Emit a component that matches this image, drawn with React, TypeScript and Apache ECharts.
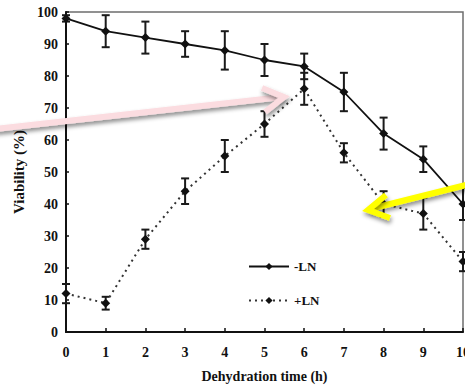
import React, { useEffect, useRef } from "react";
import * as echarts from "echarts";

const hours = [0, 1, 2, 3, 4, 5, 6, 7, 8, 9, 10];
const minusLN = [98, 94, 92, 90, 88, 85, 83, 75, 62, 54, 40];
const minusLNErr = [1, 5, 5, 4, 6, 5, 4, 6, 5, 4, 5];
const plusLN = [12, 9, 29, 44, 55, 65, 76, 56, 40, 37, 22];
const plusLNErr = [3, 2, 3, 4, 5, 4, 5, 3, 4, 5, 3];
const yTicks = [0, 10, 20, 30, 40, 50, 60, 70, 80, 90, 100];

const FONT = "'Liberation Serif', 'DejaVu Serif', serif";

function errorSeries(vals: number[], errs: number[]) {
  return {
    type: "custom",
    silent: true,
    z: 3,
    data: hours.map((h, i) => [h, vals[i] - errs[i], vals[i] + errs[i]]),
    renderItem: (params: any, api: any) => {
      const x = api.value(0);
      const lo = api.coord([x, api.value(1)]);
      const hi = api.coord([x, api.value(2)]);
      const cw = 4;
      const style = { stroke: "#1a1a1a", lineWidth: 2 };
      return {
        type: "group",
        children: [
          { type: "line", shape: { x1: lo[0], y1: lo[1], x2: hi[0], y2: hi[1] }, style },
          { type: "line", shape: { x1: hi[0] - cw, y1: hi[1], x2: hi[0] + cw, y2: hi[1] }, style },
          { type: "line", shape: { x1: lo[0] - cw, y1: lo[1], x2: lo[0] + cw, y2: lo[1] }, style },
        ],
      };
    },
  };
}

export default function App() {
  const ref = useRef<HTMLDivElement>(null);
  useEffect(() => {
    if (!ref.current) return;
    const chart = echarts.init(ref.current, null, { renderer: "svg" });
    const shadow = { shadowBlur: 4, shadowColor: "rgba(0,0,0,0.45)", shadowOffsetX: 1, shadowOffsetY: 3 };
    chart.setOption({
      animation: false,
      backgroundColor: "#ffffff",
      grid: {
        left: 66,
        right: 2,
        top: 12,
        bottom: 55,
        show: true,
        borderColor: "#6e6e6e",
        borderWidth: 1.5,
        backgroundColor: "transparent",
        containLabel: false,
        outerBoundsMode: "none",
      },
      legend: {
        orient: "vertical",
        left: 243,
        top: 255,
        itemWidth: 40,
        itemHeight: 9,
        itemGap: 21,
        textStyle: { fontFamily: FONT, fontSize: 13, fontWeight: "bold", color: "#111" },
        data: ["-LN", "+LN"],
      },
      xAxis: {
        type: "value",
        min: 0,
        max: 10,
        interval: 1,
        name: "Dehydration time (h)",
        nameLocation: "middle",
        nameGap: 37,
        nameTextStyle: { fontFamily: FONT, fontSize: 14, fontWeight: "bold", color: "#111" },
        axisLine: { lineStyle: { color: "#111", width: 2 } },
        axisTick: { inside: true, length: 4, lineStyle: { color: "#111", width: 1.5 } },
        axisLabel: { fontFamily: FONT, fontSize: 14, fontWeight: "bold", color: "#111", margin: 13 },
        splitLine: { show: false },
      },
      yAxis: {
        type: "value",
        min: 0,
        max: 100,
        interval: 10,
        name: "Viability (%)",
        nameLocation: "middle",
        nameGap: 33,
        nameTextStyle: { fontFamily: FONT, fontSize: 15, fontWeight: "bold", color: "#111" },
        axisLine: { lineStyle: { color: "#111", width: 2 } },
        axisTick: { inside: true, length: 3, lineStyle: { color: "#111", width: 1.5 } },
        axisLabel: {
          fontFamily: FONT,
          fontSize: 14,
          fontWeight: "bold",
          color: "#111",
          margin: 8,
          formatter: (v: number) => (yTicks.includes(v) ? String(v) : ""),
        },
        splitLine: { show: false },
      },
      series: [
        {
          name: "-LN",
          type: "line",
          z: 4,
          data: hours.map((h, i) => [h, minusLN[i]]),
          symbol: "diamond",
          symbolSize: 9,
          itemStyle: { color: "#111" },
          lineStyle: { color: "#111", width: 1.8 },
        },
        {
          name: "+LN",
          type: "line",
          z: 4,
          data: hours.map((h, i) => [h, plusLN[i]]),
          symbol: "diamond",
          symbolSize: 9,
          itemStyle: { color: "#111" },
          lineStyle: { color: "#333", width: 2, type: [2, 4] },
        },
        errorSeries(minusLN, minusLNErr),
        errorSeries(plusLN, plusLNErr),
      ],
      graphic: [
        {
          type: "polyline",
          z: 100,
          shape: { points: [[-5, 129], [282, 97]] },
          style: { stroke: "#fbdce0", lineWidth: 6, ...shadow },
        },
        {
          type: "polyline",
          z: 100,
          shape: { points: [[262, 88], [284, 97], [265, 112]] },
          style: { stroke: "#fbdce0", lineWidth: 6, fill: null, lineJoin: "miter", ...shadow },
        },
        {
          type: "polyline",
          z: 100,
          shape: { points: [[470, 184], [370, 209]] },
          style: { stroke: "#ffff00", lineWidth: 6, ...shadow },
        },
        {
          type: "polyline",
          z: 100,
          shape: { points: [[386, 195], [368, 210], [390, 218]] },
          style: { stroke: "#ffff00", lineWidth: 6, fill: null, lineJoin: "miter", ...shadow },
        },
      ],
    });
    return () => chart.dispose();
  }, []);
  return <div ref={ref} style={{ width: 465, height: 387, position: "absolute", left: 0, top: 0 }} />;
}
